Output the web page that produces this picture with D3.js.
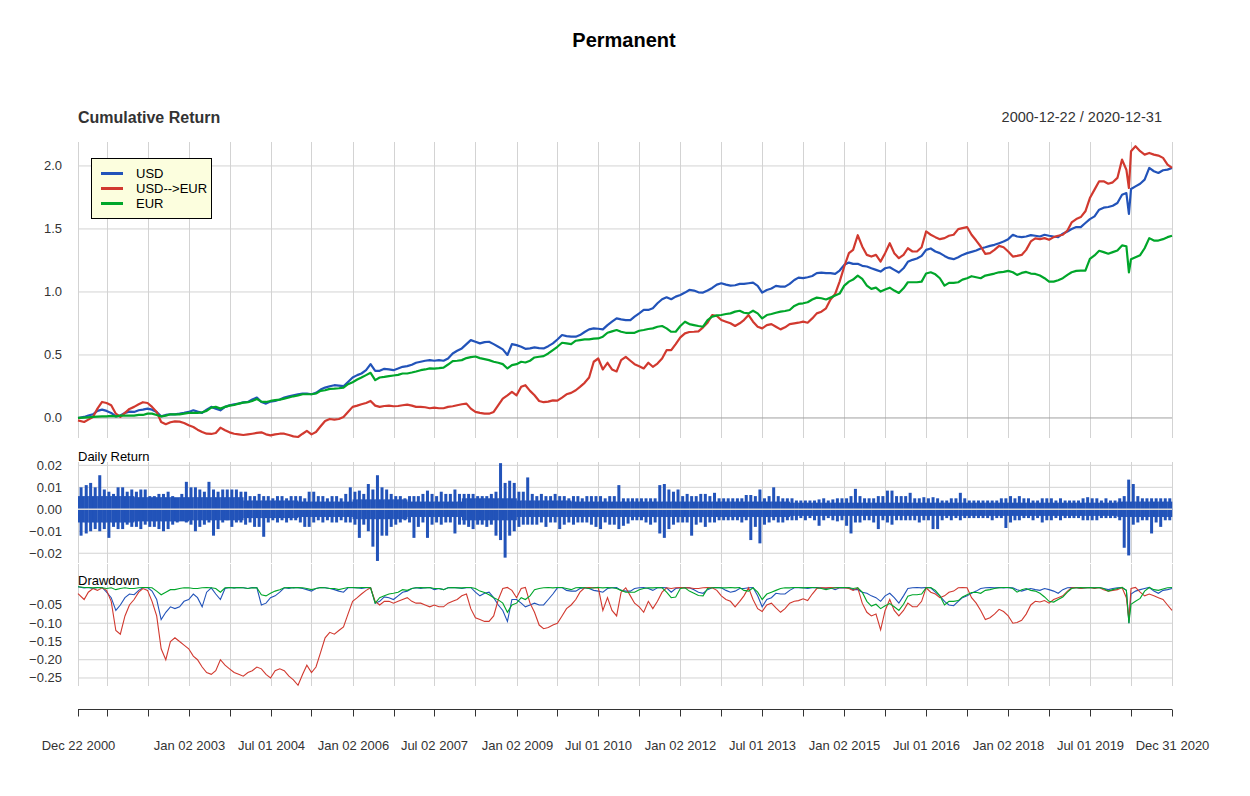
<!DOCTYPE html>
<html>
<head>
<meta charset="utf-8">
<script src="https://cdn.jsdelivr.net/npm/d3@7"></script>
<style>
  body { margin: 0; background: #fff; }
  text { font-family: "Liberation Sans", Arial, sans-serif; }
</style>
</head>
<body>
<svg id="chart" width="1250" height="796"></svg>
<script>
// monthly readings: first value on 2000-12-22, then 1st of each month from Feb 2001,
// an extra point on 2020-03-18 (the crash), and the last one on 2020-12-31
var startDate = "2000-12-22", crashDate = "2020-03-18", endDate = "2020-12-31"

var seriesNames = ["USD", "USD-->EUR", "EUR"]
var seriesColors = ["#2253b9", "#d1392f", "#00a62a"]

var cumUSD = [
  0.0,0.008,0.019,0.029,0.056,0.066,0.056,0.04,0.013,0.019,0.04,0.05,
  0.048,0.061,0.066,0.074,0.066,0.048,0.013,0.024,0.029,0.029,0.034,0.04,
  0.048,0.061,0.05,0.04,0.066,0.088,0.074,0.061,0.088,0.1,0.109,0.114,
  0.124,0.127,0.146,0.162,0.127,0.114,0.13,0.135,0.146,0.162,0.172,0.18,
  0.188,0.194,0.194,0.188,0.199,0.225,0.241,0.252,0.26,0.257,0.252,0.286,
  0.321,0.34,0.353,0.379,0.427,0.374,0.374,0.39,0.385,0.379,0.393,0.406,
  0.411,0.422,0.438,0.446,0.454,0.459,0.454,0.459,0.454,0.472,0.512,0.533,
  0.552,0.586,0.618,0.605,0.592,0.602,0.605,0.586,0.565,0.544,0.5,0.586,
  0.578,0.565,0.549,0.552,0.56,0.554,0.552,0.57,0.592,0.623,0.658,0.65,
  0.645,0.645,0.658,0.682,0.703,0.711,0.708,0.703,0.737,0.764,0.79,0.782,
  0.777,0.777,0.804,0.83,0.857,0.857,0.87,0.91,0.942,0.958,0.942,0.963,
  0.976,0.995,1.016,1.011,0.997,0.995,1.011,1.032,1.058,1.069,1.058,1.05,
  1.053,1.064,1.064,1.069,1.074,1.048,0.995,1.016,1.027,1.048,1.042,1.042,
  1.064,1.095,1.114,1.11,1.117,1.127,1.149,1.154,1.149,1.149,1.143,1.17,
  1.215,1.233,1.223,1.223,1.207,1.202,1.188,1.175,1.162,1.188,1.196,1.175,
  1.154,1.188,1.239,1.255,1.265,1.286,1.334,1.345,1.321,1.308,1.286,1.268,
  1.26,1.276,1.294,1.308,1.318,1.329,1.345,1.355,1.366,1.374,1.387,1.4,
  1.419,1.454,1.44,1.435,1.44,1.451,1.446,1.44,1.454,1.446,1.44,1.435,
  1.462,1.48,1.499,1.515,1.515,1.547,1.578,1.6,1.653,1.669,1.674,1.684,
  1.706,1.772,1.785,1.62,1.817,1.838,1.859,1.891,1.984,1.958,1.944,1.966,1.971,
  1.984]

var cumUSDEUR = [
  -0.019,-0.032,-0.013,0.008,0.074,0.127,0.119,0.101,0.034,0.008,0.04,0.072,
  0.088,0.109,0.125,0.119,0.088,0.048,-0.032,-0.05,-0.034,-0.027,-0.029,-0.04,
  -0.058,-0.072,-0.093,-0.111,-0.125,-0.127,-0.119,-0.077,-0.098,-0.114,-0.125,-0.13,
  -0.135,-0.13,-0.125,-0.119,-0.114,-0.13,-0.138,-0.13,-0.125,-0.125,-0.135,-0.146,
  -0.151,-0.125,-0.103,-0.13,-0.111,-0.066,-0.024,-0.008,-0.013,-0.008,0.008,0.048,
  0.088,0.098,0.109,0.119,0.135,0.098,0.088,0.095,0.098,0.093,0.095,0.101,
  0.106,0.098,0.088,0.088,0.085,0.077,0.082,0.077,0.077,0.088,0.093,0.101,
  0.109,0.114,0.074,0.048,0.04,0.034,0.034,0.048,0.101,0.154,0.18,0.207,
  0.18,0.247,0.26,0.215,0.18,0.135,0.125,0.13,0.14,0.138,0.162,0.188,
  0.199,0.22,0.247,0.279,0.321,0.446,0.472,0.385,0.438,0.385,0.369,0.459,
  0.485,0.454,0.427,0.411,0.393,0.438,0.406,0.432,0.472,0.538,0.538,0.586,
  0.639,0.671,0.682,0.684,0.687,0.719,0.756,0.817,0.809,0.777,0.764,0.751,
  0.73,0.751,0.777,0.817,0.764,0.724,0.711,0.737,0.745,0.724,0.703,0.719,
  0.745,0.751,0.756,0.764,0.756,0.79,0.83,0.843,0.87,0.94,0.984,1.082,
  1.202,1.308,1.334,1.45,1.361,1.294,1.281,1.294,1.241,1.308,1.387,1.308,
  1.268,1.294,1.347,1.321,1.321,1.355,1.48,1.454,1.435,1.419,1.427,1.446,
  1.454,1.499,1.507,1.515,1.454,1.408,1.361,1.302,1.308,1.334,1.366,1.355,
  1.321,1.281,1.286,1.294,1.334,1.401,1.425,1.419,1.427,1.414,1.435,1.446,
  1.454,1.488,1.552,1.578,1.594,1.64,1.745,1.812,1.878,1.878,1.859,1.87,
  1.905,2.05,1.97,1.825,2.117,2.156,2.117,2.09,2.103,2.09,2.082,2.064,2.011,
  1.984]

var cumEUR = [
  0.0,0.003,0.005,0.008,0.011,0.013,0.013,0.016,0.013,0.019,0.019,0.019,
  0.019,0.024,0.024,0.034,0.034,0.024,0.013,0.019,0.029,0.029,0.029,0.034,
  0.04,0.04,0.04,0.045,0.056,0.082,0.088,0.074,0.088,0.098,0.103,0.114,
  0.122,0.125,0.135,0.151,0.13,0.127,0.135,0.141,0.146,0.154,0.162,0.172,
  0.178,0.188,0.188,0.188,0.194,0.215,0.22,0.231,0.233,0.236,0.241,0.268,
  0.284,0.305,0.321,0.34,0.358,0.3,0.321,0.326,0.332,0.337,0.342,0.353,
  0.353,0.361,0.369,0.379,0.385,0.393,0.392,0.395,0.4,0.424,0.451,0.454,
  0.459,0.475,0.483,0.488,0.475,0.467,0.459,0.446,0.438,0.427,0.393,0.419,
  0.427,0.446,0.44,0.454,0.48,0.486,0.491,0.512,0.539,0.565,0.597,0.592,
  0.586,0.613,0.618,0.623,0.623,0.629,0.631,0.645,0.676,0.687,0.698,0.684,
  0.676,0.676,0.676,0.692,0.698,0.706,0.711,0.724,0.73,0.711,0.684,0.684,
  0.73,0.764,0.745,0.737,0.73,0.724,0.777,0.804,0.814,0.817,0.825,0.83,
  0.844,0.851,0.835,0.83,0.851,0.83,0.79,0.817,0.825,0.835,0.844,0.849,
  0.857,0.889,0.905,0.91,0.918,0.94,0.955,0.95,0.94,0.955,0.971,0.987,
  1.05,1.082,1.098,1.13,1.103,1.05,1.024,1.034,1.003,1.019,1.034,1.011,
  0.992,1.029,1.077,1.077,1.077,1.082,1.146,1.156,1.14,1.109,1.05,1.072,
  1.072,1.077,1.098,1.109,1.125,1.117,1.109,1.13,1.138,1.146,1.156,1.159,
  1.167,1.156,1.135,1.151,1.159,1.146,1.143,1.13,1.109,1.082,1.082,1.093,
  1.109,1.135,1.156,1.167,1.17,1.17,1.263,1.29,1.327,1.316,1.303,1.316,
  1.329,1.369,1.363,1.156,1.26,1.276,1.292,1.347,1.427,1.408,1.408,1.419,1.435,
  1.446]

var ddUSD = [
  0,-0.003,-0.002,-0.005,-0.002,-0.002,-0.015,-0.03,-0.065,-0.05,-0.03,-0.02,
  -0.022,-0.01,-0.003,-0.002,-0.012,-0.035,-0.09,-0.07,-0.055,-0.06,-0.055,-0.04,
  -0.035,-0.02,-0.03,-0.055,-0.015,-0.003,-0.02,-0.035,-0.005,-0.002,-0.003,-0.002,
  -0.003,-0.005,-0.002,-0.003,-0.05,-0.045,-0.03,-0.025,-0.015,-0.003,-0.005,-0.002,
  -0.003,-0.005,-0.008,-0.012,-0.005,-0.002,-0.003,-0.005,-0.008,-0.012,-0.015,-0.003,
  -0.002,-0.003,-0.005,-0.003,-0.002,-0.045,-0.04,-0.028,-0.03,-0.035,-0.025,-0.015,
  -0.012,-0.005,-0.003,-0.005,-0.003,-0.002,-0.008,-0.005,-0.008,-0.003,-0.002,-0.003,
  -0.005,-0.003,-0.002,-0.015,-0.025,-0.018,-0.015,-0.03,-0.05,-0.065,-0.095,-0.035,
  -0.035,-0.045,-0.055,-0.05,-0.045,-0.05,-0.05,-0.035,-0.02,-0.003,-0.002,-0.01,
  -0.012,-0.012,-0.005,-0.003,-0.005,-0.01,-0.012,-0.015,-0.005,-0.003,-0.002,-0.01,
  -0.012,-0.012,-0.005,-0.003,-0.002,-0.005,-0.01,-0.003,-0.002,-0.003,-0.015,-0.005,
  -0.003,-0.002,-0.003,-0.008,-0.015,-0.018,-0.008,-0.003,-0.002,-0.003,-0.01,-0.015,
  -0.012,-0.005,-0.005,-0.003,-0.002,-0.025,-0.055,-0.035,-0.03,-0.018,-0.02,-0.02,
  -0.01,-0.003,-0.002,-0.003,-0.005,-0.003,-0.002,-0.003,-0.005,-0.003,-0.008,-0.003,
  -0.003,-0.002,-0.008,-0.008,-0.015,-0.018,-0.025,-0.03,-0.04,-0.025,-0.018,-0.03,
  -0.045,-0.025,-0.005,-0.003,-0.002,-0.003,-0.002,-0.003,-0.015,-0.025,-0.04,-0.05,
  -0.052,-0.04,-0.03,-0.025,-0.018,-0.012,-0.005,-0.003,-0.002,-0.003,-0.002,-0.003,
  -0.002,-0.003,-0.008,-0.012,-0.008,-0.005,-0.008,-0.01,-0.005,-0.008,-0.012,-0.018,
  -0.008,-0.003,-0.002,-0.003,-0.005,-0.003,-0.002,-0.003,-0.002,-0.005,-0.008,-0.005,
  -0.003,-0.002,-0.01,-0.1,-0.02,-0.012,-0.008,-0.005,-0.002,-0.012,-0.018,-0.01,-0.008,
  -0.005]

var ddUSDEUR = [
  -0.019,-0.035,-0.015,-0.005,-0.01,-0.003,-0.01,-0.04,-0.12,-0.13,-0.08,-0.05,
  -0.035,-0.015,-0.005,-0.01,-0.04,-0.08,-0.17,-0.2,-0.15,-0.14,-0.15,-0.16,
  -0.17,-0.19,-0.2,-0.22,-0.235,-0.24,-0.23,-0.2,-0.215,-0.225,-0.235,-0.24,
  -0.245,-0.235,-0.23,-0.22,-0.225,-0.24,-0.25,-0.23,-0.225,-0.23,-0.245,-0.255,
  -0.27,-0.24,-0.215,-0.235,-0.22,-0.18,-0.14,-0.125,-0.13,-0.12,-0.11,-0.075,
  -0.04,-0.03,-0.02,-0.01,-0.003,-0.04,-0.05,-0.04,-0.04,-0.045,-0.04,-0.035,
  -0.03,-0.04,-0.045,-0.045,-0.05,-0.055,-0.05,-0.055,-0.055,-0.045,-0.04,-0.035,
  -0.025,-0.02,-0.06,-0.085,-0.09,-0.095,-0.095,-0.08,-0.035,-0.005,-0.002,-0.01,
  -0.03,-0.005,-0.002,-0.045,-0.07,-0.105,-0.115,-0.112,-0.105,-0.1,-0.08,-0.06,
  -0.05,-0.035,-0.015,-0.003,-0.002,-0.003,-0.002,-0.065,-0.03,-0.065,-0.08,-0.015,
  -0.003,-0.025,-0.045,-0.055,-0.07,-0.04,-0.06,-0.04,-0.015,-0.003,-0.005,-0.003,
  -0.002,-0.003,-0.003,-0.005,-0.005,-0.003,-0.002,-0.003,-0.01,-0.025,-0.035,-0.04,
  -0.055,-0.04,-0.025,-0.003,-0.035,-0.06,-0.068,-0.05,-0.045,-0.058,-0.07,-0.06,
  -0.045,-0.04,-0.038,-0.033,-0.038,-0.02,-0.005,-0.003,-0.003,-0.002,-0.003,-0.002,
  -0.003,-0.005,-0.01,-0.003,-0.045,-0.07,-0.08,-0.075,-0.118,-0.065,-0.035,-0.065,
  -0.08,-0.065,-0.045,-0.055,-0.055,-0.04,-0.003,-0.015,-0.02,-0.03,-0.025,-0.015,
  -0.012,-0.003,-0.002,-0.003,-0.03,-0.045,-0.065,-0.09,-0.085,-0.075,-0.062,-0.068,
  -0.08,-0.1,-0.098,-0.092,-0.075,-0.05,-0.04,-0.042,-0.038,-0.045,-0.035,-0.03,
  -0.025,-0.012,-0.003,-0.002,-0.005,-0.003,-0.002,-0.005,-0.002,-0.008,-0.012,-0.01,
  -0.008,-0.002,-0.03,-0.09,-0.005,-0.002,-0.015,-0.025,-0.02,-0.025,-0.03,-0.035,-0.05,
  -0.065]

var ddEUR = [
  0,-0.002,-0.002,-0.003,-0.002,-0.003,-0.005,-0.003,-0.008,-0.005,-0.003,-0.005,
  -0.005,-0.003,-0.002,-0.002,-0.003,-0.012,-0.022,-0.015,-0.008,-0.008,-0.005,-0.003,
  -0.003,-0.005,-0.005,-0.003,-0.002,-0.003,-0.005,-0.015,-0.003,-0.002,-0.003,-0.002,
  -0.003,-0.005,-0.003,-0.003,-0.022,-0.025,-0.018,-0.012,-0.008,-0.003,-0.002,-0.003,
  -0.002,-0.003,-0.005,-0.008,-0.005,-0.002,-0.003,-0.005,-0.005,-0.008,-0.005,-0.002,
  -0.002,-0.003,-0.002,-0.002,-0.003,-0.045,-0.03,-0.025,-0.02,-0.018,-0.015,-0.008,
  -0.01,-0.005,-0.003,-0.002,-0.003,-0.002,-0.005,-0.005,-0.008,-0.003,-0.002,-0.003,
  -0.003,-0.002,-0.002,-0.005,-0.012,-0.016,-0.022,-0.03,-0.036,-0.045,-0.07,-0.05,
  -0.045,-0.03,-0.035,-0.025,-0.008,-0.005,-0.003,-0.002,-0.003,-0.002,-0.002,-0.005,
  -0.008,-0.003,-0.002,-0.003,-0.005,-0.003,-0.002,-0.003,-0.002,-0.003,-0.005,-0.01,
  -0.015,-0.015,-0.015,-0.008,-0.005,-0.003,-0.003,-0.002,-0.003,-0.015,-0.03,-0.028,
  -0.005,-0.003,-0.012,-0.018,-0.024,-0.025,-0.005,-0.003,-0.002,-0.003,-0.003,-0.002,
  -0.003,-0.002,-0.01,-0.012,-0.003,-0.015,-0.035,-0.02,-0.015,-0.01,-0.005,-0.003,
  -0.003,-0.002,-0.002,-0.003,-0.002,-0.002,-0.003,-0.005,-0.008,-0.005,-0.003,-0.002,
  -0.002,-0.003,-0.005,-0.003,-0.015,-0.04,-0.053,-0.048,-0.06,-0.052,-0.046,-0.055,
  -0.065,-0.048,-0.026,-0.022,-0.022,-0.02,-0.003,-0.002,-0.01,-0.025,-0.05,-0.04,
  -0.04,-0.038,-0.028,-0.022,-0.016,-0.015,-0.018,-0.01,-0.008,-0.005,-0.003,-0.002,
  -0.002,-0.005,-0.015,-0.008,-0.005,-0.01,-0.012,-0.018,-0.028,-0.04,-0.042,-0.035,
  -0.028,-0.015,-0.005,-0.003,-0.002,-0.003,-0.002,-0.003,-0.002,-0.005,-0.012,-0.008,
  -0.005,-0.002,-0.01,-0.1,-0.048,-0.04,-0.032,-0.012,-0.002,-0.008,-0.01,-0.006,-0.003,
  -0.002]

// daily return (USD): per month the highest and lowest bar, per year the dense band, in thousandths
var retHigh = [
  10,11,12,10,15.5,9,8,7,10,10,8,9,
  8,9,9,6,6,7,7,8,6,5,7,12.5,
  10,10,9,8,12.5,9,8,9,9,9,9,8,
  8,6,6,7,6,6,5,6,6,5,6,6,
  6,5,8,8,6,6,5,6,6,5,7,10,
  8,8.5,7,11.5,9,15.5,10,9,7,6,6,5,
  6,6,6,7,8.5,7,6,8,7,7,9,7,
  7,7,7,6,6,6,7,8,21,12,13,12,
  8,8,14.5,7,6,7,6,6,7,6,6,5,
  6,6,5,6,6,6,6,5,6,6,11,5,
  5,5,5,5,5,5,5,11,11.5,9,8,9,
  6,7,6,6,7,7,6,7.5,5,5,5,5,
  5,5,6.5,6.5,6,9,5,6,10,6,5,5,
  5,4,4,4,4,4,4.5,5,4,4.5,5,5,
  5,6,9.3,6,5,5,5,6,6,8.5,8.5,6,
  6,6,7.5,5,5,5.5,5,5.5,5,4,4,5,
  5,7.5,5,4,4,4,4,4,4,4,5,5,
  6,5,6,5,5,4,4,5,5,5,4,5,
  4,4,4,4,5,5.5,5,5,4,5,4,4,
  5,6,13.5,11.5,6,5,5,5,5,5,5,5]

var retLow = [
  -12,-11,-10,-9,-10,-9,-13,-8,-9,-9,-7,-8,
  -8,-9,-7,-8,-8,-9,-10,-9,-7,-6,-5,-6,
  -7,-10,-8,-7,-6,-12,-9,-6,-5,-8,-6,-6,
  -7,-6,-8,-8,-12.5,-6,-5,-6,-5,-6,-5,-5,
  -6,-8,-8,-6,-5,-6,-5,-6,-6,-5,-6,-6,
  -7,-13,-7,-10,-17,-23.5,-12,-12,-8,-7,-6,-5,
  -6,-13,-8,-6,-13,-7,-6,-7,-6,-6,-11,-7,
  -7,-8,-9,-7,-7,-8,-7,-12,-14,-22,-12,-10,
  -8,-7,-7,-7,-7,-6,-8,-6,-6,-9,-7,-6,
  -7,-6,-6,-6,-7,-8,-9,-6,-7,-7,-9,-7.5,
  -6.5,-5,-5,-5,-6,-7,-6,-11,-13,-9,-7,-6,
  -6,-6,-12,-7,-6,-8,-6,-6,-5,-5,-5,-5,
  -5,-6,-5,-14,-8,-15.5,-7,-6,-5,-6,-6,-5,
  -5,-5,-4,-5,-4,-5,-7.5,-5,-4,-5,-5.5,-5,
  -7.5,-11,-6,-6,-5,-5,-6,-9,-5,-6,-7,-5,
  -5,-5,-5,-5,-6,-5,-5,-9,-9,-5,-4,-5,
  -4,-5,-4,-4,-4,-4,-4,-4,-5,-4,-4,-8.5,
  -6,-5,-5,-4,-4,-5,-4,-6,-5,-5,-4,-5,
  -4,-4,-4,-4,-5,-5,-5,-5,-4,-4,-4,-4,
  -5,-17.5,-21,-7,-6,-5,-5,-11,-6,-8,-5,-5]

var retBandHigh = [6,5.5,5.5,4,3.5,4.5,3.5,5,4,3.5,3.5,3.5,3.5,3,3,3,3,3,3,3.5]
var retBandLow = [-6,-5.5,-5,-4,-3.5,-4.5,-3.5,-5,-3.5,-3.5,-3.5,-3.5,-3.5,-3,-3,-3,-3,-3,-3,-3.5]

var xTickDates = ["2000-12-22","2001-07-02","2002-04-01","2003-01-02","2003-10-01","2004-07-01","2005-04-01",
  "2006-01-02","2006-10-02","2007-07-02","2008-04-01","2009-01-02","2009-10-01","2010-07-01","2011-04-01",
  "2012-01-02","2012-10-01","2013-07-01","2014-04-01","2015-01-02","2015-10-01","2016-07-01","2017-04-03",
  "2018-01-02","2018-10-01","2019-07-01","2020-04-01","2020-12-31"]
var xTickLabels = ["Dec 22 2000","","","Jan 02 2003","","Jul 01 2004","","Jan 02 2006","","Jul 02 2007","",
  "Jan 02 2009","","Jul 01 2010","","Jan 02 2012","","Jul 01 2013","","Jan 02 2015","","Jul 01 2016","",
  "Jan 02 2018","","Jul 01 2019","","Dec 31 2020"]

var cumTicks = [0, 0.5, 1.0, 1.5, 2.0]
var retTicks = [-0.02, -0.01, 0, 0.01, 0.02]
var ddTicks = [-0.25, -0.20, -0.15, -0.10, -0.05]

var parse = d3.utcParse("%Y-%m-%d")
var start = parse(startDate), end = parse(endDate)
var monthStarts = d3.utcMonth.range(parse("2001-02-01"), parse("2021-01-01"))
var dates = [start].concat(monthStarts.slice(0, 230), [parse(crashDate)], monthStarts.slice(230), [end])

var svg = d3.select("#chart")
var grid = "#d3d3d3", ink = "#333"

var x = d3.scaleUtc().domain([start, end]).range([78, 1172])
var yCum = d3.scaleLinear().domain([-0.159, 2.19]).range([438, 142])
var yRet = d3.scaleLinear().domain([-0.0243, 0.0212]).range([562.7, 462.7])
var yDd = d3.scaleLinear().domain([-0.272, 0.0568]).range([686, 566])

svg.append("rect").attr("width", 1250).attr("height", 796).attr("fill", "#fff")

// titles
svg.append("text").attr("x", 624).attr("y", 47).attr("text-anchor", "middle")
  .style("font-size", "20px").style("font-weight", "bold").attr("fill", "#000").text("Permanent")
svg.append("text").attr("x", 78).attr("y", 123)
  .style("font-size", "16px").style("font-weight", "bold").attr("fill", ink).text("Cumulative Return")
svg.append("text").attr("x", 1162).attr("y", 122).attr("text-anchor", "end")
  .style("font-size", "14.5px").attr("fill", ink).text("2000-12-22 / 2020-12-31")

function panelGrid(yScale, ticks, fmt, y0, y1, hLines) {
  var g = svg.append("g")
  g.selectAll("line.v").data(xTickDates.map(parse)).enter().append("line")
    .attr("x1", function (d) { return Math.round(x(d)) + 0.5 })
    .attr("x2", function (d) { return Math.round(x(d)) + 0.5 })
    .attr("y1", y0).attr("y2", y1)
    .attr("stroke", grid).attr("stroke-width", 1)
  g.selectAll("line.h").data(hLines).enter().append("line")
    .attr("x1", 78).attr("x2", 1172)
    .attr("y1", function (d) { return yScale(d) }).attr("y2", function (d) { return yScale(d) })
    .attr("stroke", grid).attr("stroke-width", 1)
  g.selectAll("text").data(ticks).enter().append("text")
    .attr("x", 62).attr("y", function (d) { return yScale(d) + 4.5 })
    .attr("text-anchor", "end").style("font-size", "13px").attr("fill", ink)
    .text(function (d) { return fmt(d) })
}

function seriesLine(yScale) {
  return d3.line().x(function (d, j) { return x(dates[j]) }).y(function (d) { return yScale(d) })
}

// panel 1: cumulative return
panelGrid(yCum, cumTicks, d3.format(".1f"), 142, 438, [0.5, 1.0, 1.5, 2.0])
svg.append("line").attr("x1", 78).attr("x2", 1172).attr("y1", yCum(0)).attr("y2", yCum(0))
  .attr("stroke", "#a0a0a0").attr("stroke-width", 1)

;[cumUSD, cumUSDEUR, cumEUR].forEach(function (vals, i) {
  svg.append("path").datum(vals).attr("d", seriesLine(yCum)).attr("fill", "none")
    .attr("stroke", seriesColors[i]).attr("stroke-width", 2.2).attr("stroke-linejoin", "round")
})

// legend
var leg = svg.append("g")
leg.append("rect").attr("x", 91.5).attr("y", 158.5).attr("width", 120).attr("height", 60)
  .attr("fill", "#fcfede").attr("stroke", "#000").attr("stroke-width", 1)
seriesNames.forEach(function (name, i) {
  var ly = 173.5 + i * 15
  leg.append("line").attr("x1", 101).attr("x2", 123).attr("y1", ly).attr("y2", ly)
    .attr("stroke", seriesColors[i]).attr("stroke-width", 3)
  leg.append("text").attr("x", 136).attr("y", ly + 4.5).style("font-size", "13px")
    .attr("fill", "#000").text(name)
})

// panel 2: daily return bars
panelGrid(yRet, retTicks, d3.format(".2f"), 462, 563, retTicks)
svg.append("text").attr("x", 78).attr("y", 461).style("font-size", "13px").attr("fill", "#000").text("Daily Return")
var month0 = parse("2001-01-01")
function monthStart(m) { return m === 0 ? start : d3.utcMonth.offset(month0, m) }
function monthEnd(m) { return m === retHigh.length - 1 ? end : d3.utcMonth.offset(month0, m + 1) }
var bars = svg.append("g").attr("fill", seriesColors[0])
bars.selectAll("rect.band").data(retHigh).enter().append("rect")
  .attr("x", function (d, m) { return x(monthStart(m)) })
  .attr("width", function (d, m) { return x(monthEnd(m)) - x(monthStart(m)) + 0.3 })
  .attr("y", function (d, m) { return yRet(retBandHigh[Math.floor(m / 12)] / 1000) })
  .attr("height", function (d, m) {
    var yr = Math.floor(m / 12)
    return yRet(retBandLow[yr] / 1000) - yRet(retBandHigh[yr] / 1000)
  })
bars.selectAll("rect.spike").data(retHigh).enter().append("rect")
  .attr("x", function (d, m) { return (x(monthStart(m)) + x(monthEnd(m))) / 2 - 1.5 })
  .attr("width", 3)
  .attr("y", function (d) { return yRet(d / 1000) })
  .attr("height", function (d, m) { return yRet(retLow[m] / 1000) - yRet(d / 1000) })
svg.append("line").attr("x1", 78).attr("x2", 1172).attr("y1", yRet(0)).attr("y2", yRet(0))
  .attr("stroke", "#dcdcdc").attr("stroke-width", 1.5)

// panel 3: drawdown
panelGrid(yDd, ddTicks, d3.format(".2f"), 564, 686, ddTicks)
svg.append("text").attr("x", 78).attr("y", 585).style("font-size", "13px").attr("fill", "#000").text("Drawdown")
;[ddUSD, ddUSDEUR, ddEUR].forEach(function (vals, i) {
  svg.append("path").datum(vals).attr("d", seriesLine(yDd)).attr("fill", "none")
    .attr("stroke", seriesColors[i]).attr("stroke-width", 1.1)
})

// x axis
var axis = svg.append("g")
axis.append("line").attr("x1", 78).attr("x2", 1172).attr("y1", 709.5).attr("y2", 709.5)
  .attr("stroke", ink).attr("stroke-width", 1)
xTickDates.forEach(function (s, i) {
  var tx = Math.round(x(parse(s))) + 0.5
  axis.append("line").attr("x1", tx).attr("x2", tx).attr("y1", 709.5).attr("y2", 716.5)
    .attr("stroke", ink).attr("stroke-width", 1)
  if (xTickLabels[i]) {
    axis.append("text").attr("x", tx).attr("y", 750).attr("text-anchor", "middle")
      .style("font-size", "13px").attr("fill", ink).text(xTickLabels[i])
  }
})
</script>
</body>
</html>
